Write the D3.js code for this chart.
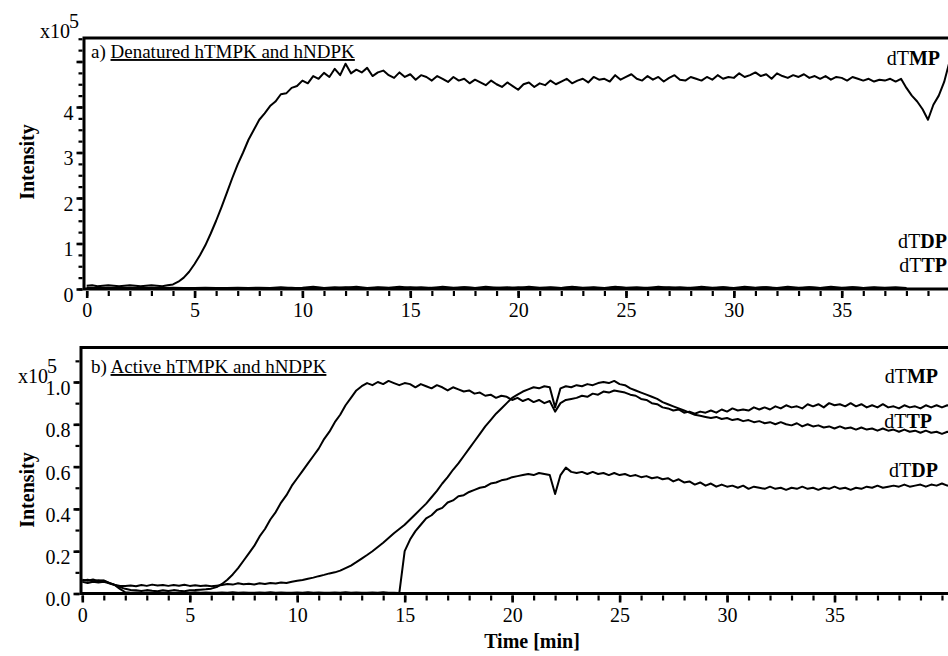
<!DOCTYPE html>
<html>
<head>
<meta charset="utf-8">
<script src="https://cdn.jsdelivr.net/npm/d3@7"></script>
<style>
  body { margin: 0; background: #fff; }
</style>
</head>
<body>
<script>
// ------------------------------- //
// Data (intensity in units of 1e5, sampled every 0.25 min from t = 0)
// ------------------------------- //
var step = 0.25
var baseStep = 0.5   // the flat traces of panel a) are sampled every 0.5 min
var FONT = "Liberation Serif"

// a) denatured enzymes
var topTMP = [
  0.07, 0.08, 0.06, 0.07,   // 0
  0.08, 0.07, 0.06, 0.07,   // 1
  0.08, 0.07, 0.06, 0.07,   // 2
  0.08, 0.07, 0.06, 0.08,   // 3
  0.10, 0.16, 0.25, 0.38,   // 4
  0.55, 0.74, 0.96, 1.22,   // 5
  1.50, 1.80, 2.12, 2.44,   // 6
  2.74, 3.00, 3.28, 3.50,   // 7
  3.72, 3.86, 4.02, 4.12,   // 8
  4.28, 4.30, 4.42, 4.46,   // 9
  4.58, 4.52, 4.68, 4.62,   // 10
  4.75, 4.66, 4.84, 4.70,   // 11
  4.95, 4.74, 4.82, 4.76,   // 12
  4.86, 4.68, 4.76, 4.80,   // 13
  4.70, 4.64, 4.76, 4.66,   // 14
  4.72, 4.60, 4.70, 4.66,   // 15
  4.58, 4.68, 4.62, 4.55,   // 16
  4.66, 4.58, 4.62, 4.52,   // 17
  4.60, 4.54, 4.48, 4.58,   // 18
  4.50, 4.44, 4.54, 4.46,   // 19
  4.38, 4.50, 4.54, 4.44,   // 20
  4.52, 4.48, 4.58, 4.50,   // 21
  4.56, 4.62, 4.52, 4.58,   // 22
  4.62, 4.54, 4.66, 4.60,   // 23
  4.62, 4.56, 4.70, 4.60,   // 24
  4.66, 4.72, 4.62, 4.58,   // 25
  4.68, 4.60, 4.66, 4.56,   // 26
  4.64, 4.70, 4.60, 4.58,   // 27
  4.66, 4.62, 4.58, 4.66,   // 28
  4.60, 4.70, 4.62, 4.66,   // 29
  4.64, 4.74, 4.66, 4.70,   // 30
  4.76, 4.68, 4.72, 4.62,   // 31
  4.74, 4.68, 4.64, 4.70,   // 32
  4.66, 4.72, 4.64, 4.68,   // 33
  4.62, 4.68, 4.60, 4.66,   // 34
  4.64, 4.58, 4.66, 4.62,   // 35
  4.58, 4.62, 4.56, 4.60,   // 36
  4.58, 4.62, 4.56, 4.62,   // 37
  4.42, 4.25, 4.12, 3.95,   // 38
  3.72, 4.05, 4.25, 4.55,   // 39
  5.00, 5.30, 5.50          // 40
]
var topTDP = [
  0.03, 0.02, 0.03, 0.02, 0.03, 0.02, 0.03, 0.02, 0.03, 0.02,
  0.02, 0.03, 0.02, 0.02, 0.03, 0.02, 0.03, 0.02, 0.04, 0.02,
  0.03, 0.05, 0.02, 0.04, 0.03, 0.05, 0.02, 0.04, 0.03, 0.05,
  0.03, 0.04, 0.02, 0.05, 0.03, 0.04, 0.02, 0.05, 0.03, 0.04,
  0.02, 0.05, 0.03, 0.04, 0.02, 0.05, 0.03, 0.04, 0.02, 0.05,
  0.03, 0.04, 0.02, 0.05, 0.03, 0.04, 0.02, 0.05, 0.03, 0.04,
  0.02, 0.05, 0.03, 0.04, 0.02, 0.05, 0.03, 0.04, 0.02, 0.05,
  0.03, 0.04, 0.02, 0.04, 0.03, 0.04, 0.02
]
var topTTP = [
  0.01, 0.02, 0.01, 0.02, 0.01, 0.02, 0.01, 0.02, 0.01, 0.02,
  0.01, 0.02, 0.01, 0.02, 0.01, 0.02, 0.01, 0.02, 0.01, 0.03,
  0.01, 0.03, 0.02, 0.01, 0.04, 0.02, 0.01, 0.03, 0.02, 0.01,
  0.04, 0.01, 0.03, 0.02, 0.01, 0.04, 0.02, 0.01, 0.03, 0.01,
  0.04, 0.02, 0.01, 0.03, 0.02, 0.04, 0.01, 0.03, 0.01, 0.04,
  0.02, 0.01, 0.03, 0.02, 0.04, 0.01, 0.03, 0.02, 0.01, 0.04,
  0.01, 0.03, 0.02, 0.04, 0.01, 0.03, 0.01, 0.04, 0.02, 0.03,
  0.01, 0.04, 0.02, 0.03, 0.01, 0.02, 0.01
]

// b) active enzymes
var botTMP = [
  0.065, 0.060, 0.066, 0.058,   // 0
  0.062, 0.050, 0.041, 0.030,   // 1
  0.022, 0.017, 0.015, 0.012,   // 2
  0.016, 0.013, 0.011, 0.015,   // 3
  0.012, 0.016, 0.013, 0.011,   // 4
  0.015, 0.016, 0.018, 0.020,   // 5
  0.023, 0.030, 0.045, 0.065,   // 6
  0.090, 0.120, 0.155, 0.190,   // 7
  0.225, 0.270, 0.305, 0.350,   // 8
  0.385, 0.430, 0.465, 0.510,   // 9
  0.545, 0.580, 0.615, 0.650,   // 10
  0.685, 0.730, 0.765, 0.810,   // 11
  0.845, 0.890, 0.925, 0.960,   // 12
  0.980, 0.995, 0.985, 1.000,   // 13
  0.990, 1.005, 0.995, 0.985,   // 14
  0.995, 0.990, 0.975, 0.990,   // 15
  0.980, 0.970, 0.985, 0.975,   // 16
  0.960, 0.975, 0.965, 0.955,   // 17
  0.960, 0.945, 0.950, 0.935,   // 18
  0.940, 0.925, 0.935, 0.930,   // 19
  0.915, 0.925, 0.910, 0.920,   // 20
  0.905, 0.915, 0.900, 0.910,   // 21
  0.860, 0.900, 0.915, 0.920,   // 22
  0.925, 0.935, 0.930, 0.945,   // 23
  0.940, 0.955, 0.950, 0.960,   // 24
  0.955, 0.950, 0.940, 0.935,   // 25
  0.920, 0.915, 0.900, 0.895,   // 26
  0.880, 0.875, 0.865, 0.870,   // 27
  0.855, 0.860, 0.850, 0.860,   // 28
  0.855, 0.865, 0.855, 0.870,   // 29
  0.860, 0.875, 0.865, 0.870,   // 30
  0.865, 0.880, 0.870, 0.880,   // 31
  0.870, 0.885, 0.875, 0.890,   // 32
  0.880, 0.885, 0.875, 0.895,   // 33
  0.885, 0.895, 0.880, 0.900,   // 34
  0.890, 0.895, 0.885, 0.900,   // 35
  0.885, 0.895, 0.880, 0.890,   // 36
  0.880, 0.895, 0.880, 0.885,   // 37
  0.875, 0.890, 0.880, 0.885,   // 38
  0.875, 0.890, 0.880, 0.890,   // 39
  0.880, 0.890, 0.885           // 40
]
var botTTP = [
  0.060, 0.065, 0.058, 0.063,   // 0
  0.060, 0.050, 0.042, 0.036,   // 1
  0.035, 0.038, 0.034, 0.040,   // 2
  0.036, 0.042, 0.038, 0.040,   // 3
  0.036, 0.040, 0.037, 0.041,   // 4
  0.036, 0.039, 0.035, 0.038,   // 5
  0.034, 0.037, 0.040, 0.045,   // 6
  0.042, 0.048, 0.044, 0.046,   // 7
  0.043, 0.048, 0.045, 0.050,   // 8
  0.047, 0.052, 0.050, 0.056,   // 9
  0.060, 0.064, 0.070, 0.075,   // 10
  0.082, 0.088, 0.095, 0.100,   // 11
  0.108, 0.120, 0.132, 0.148,   // 12
  0.165, 0.182, 0.200, 0.220,   // 13
  0.240, 0.262, 0.285, 0.305,   // 14
  0.325, 0.350, 0.375, 0.400,   // 15
  0.425, 0.455, 0.485, 0.520,   // 16
  0.550, 0.585, 0.615, 0.650,   // 17
  0.685, 0.720, 0.755, 0.790,   // 18
  0.820, 0.850, 0.875, 0.900,   // 19
  0.925, 0.940, 0.955, 0.965,   // 20
  0.975, 0.970, 0.980, 0.975,   // 21
  0.880, 0.970, 0.980, 0.975,   // 22
  0.985, 0.980, 0.990, 0.985,   // 23
  0.995, 1.000, 0.995, 1.005,   // 24
  0.990, 0.985, 0.970, 0.960,   // 25
  0.950, 0.940, 0.930, 0.920,   // 26
  0.905, 0.895, 0.885, 0.875,   // 27
  0.865, 0.855, 0.845, 0.840,   // 28
  0.835, 0.830, 0.835, 0.825,   // 29
  0.830, 0.820, 0.825, 0.815,   // 30
  0.820, 0.810, 0.815, 0.805,   // 31
  0.810, 0.800, 0.810, 0.800,   // 32
  0.795, 0.805, 0.790, 0.800,   // 33
  0.790, 0.795, 0.785, 0.790,   // 34
  0.780, 0.790, 0.780, 0.785,   // 35
  0.775, 0.785, 0.775, 0.780,   // 36
  0.770, 0.780, 0.770, 0.775,   // 37
  0.765, 0.775, 0.765, 0.770,   // 38
  0.760, 0.770, 0.760, 0.765,   // 39
  0.755, 0.765, 0.755           // 40
]
var botTDP = [
  0.055, 0.050, 0.056, 0.052,   // 0
  0.055, 0.048, 0.040, 0.022,   // 1
  0.006, 0.004, 0.005, 0.003,   // 2
  0.005, 0.004, 0.006, 0.003,   // 3
  0.005, 0.004, 0.003, 0.005,   // 4
  0.004, 0.006, 0.003, 0.005,   // 5
  0.004, 0.003, 0.005, 0.004,   // 6
  0.006, 0.003, 0.005, 0.004,   // 7
  0.003, 0.005, 0.004, 0.006,   // 8
  0.003, 0.005, 0.004, 0.003,   // 9
  0.005, 0.004, 0.006, 0.003,   // 10
  0.005, 0.004, 0.003, 0.005,   // 11
  0.004, 0.006, 0.003, 0.005,   // 12
  0.004, 0.003, 0.005, 0.004,   // 13
  0.006, 0.003, 0.004, 0.002,   // 14
  0.200, 0.255, 0.295, 0.325,   // 15
  0.355, 0.370, 0.395, 0.405,   // 16
  0.430, 0.440, 0.460, 0.465,   // 17
  0.480, 0.490, 0.500, 0.505,   // 18
  0.520, 0.525, 0.535, 0.540,   // 19
  0.550, 0.555, 0.560, 0.565,   // 20
  0.560, 0.570, 0.565, 0.560,   // 21
  0.470, 0.560, 0.595, 0.575,   // 22
  0.570, 0.575, 0.565, 0.575,   // 23
  0.565, 0.570, 0.560, 0.570,   // 24
  0.560, 0.565, 0.555, 0.560,   // 25
  0.550, 0.555, 0.545, 0.550,   // 26
  0.540, 0.545, 0.530, 0.540,   // 27
  0.525, 0.530, 0.515, 0.525,   // 28
  0.510, 0.520, 0.505, 0.515,   // 29
  0.505, 0.510, 0.500, 0.510,   // 30
  0.495, 0.505, 0.500, 0.495,   // 31
  0.505, 0.495, 0.500, 0.490,   // 32
  0.500, 0.495, 0.505, 0.495,   // 33
  0.500, 0.490, 0.500, 0.495,   // 34
  0.505, 0.495, 0.500, 0.490,   // 35
  0.500, 0.495, 0.505, 0.500,   // 36
  0.510, 0.500, 0.505, 0.510,   // 37
  0.505, 0.515, 0.505, 0.510,   // 38
  0.515, 0.505, 0.515, 0.510,   // 39
  0.520, 0.510, 0.515           // 40
]

// Tick values
var xMajor = [0, 5, 10, 15, 20, 25, 30, 35]
var xMinor = d3.range(0, 41, 1)
var topYMajor = [0, 1, 2, 3, 4, 5]
var topYLabels = ["0", "1", "2", "3", "4"]
var botYMajor = [0, 0.2, 0.4, 0.6, 0.8, 1.0]
var botYLabels = ["0.0", "0.2", "0.4", "0.6", "0.8", "1.0"]

// ------------------------------- //
// SVG
// ------------------------------- //
var W = 948, H = 656
var svg = d3.select("body")
    .append("svg")
    .attr("width", W)
    .attr("height", H)
    .attr("font-family", FONT)

// Draw one panel: frame, axes, traces, labels
function drawPanel(p) {

    var x = d3.scaleLinear().domain([0, 35]).range(p.xRange)
    var y = d3.scaleLinear().domain(p.yDomain).range(p.yRange)
    var y0 = y(0)

    var g = svg.append("g")

    // x axis: minor ticks
    g.append("g")
        .attr("transform", "translate(0," + (y0 + 2) + ")")
        .call(d3.axisBottom(x).tickValues(xMinor).tickSize(5).tickFormat(""))
        .call(function(s) { s.select(".domain").remove() })
        .selectAll("line").attr("stroke-width", 2.2)

    // x axis: major ticks + labels
    var xa = g.append("g")
        .attr("transform", "translate(0," + (y0 + 2) + ")")
        .call(d3.axisBottom(x).tickValues(xMajor).tickSize(7).tickPadding(5).tickFormat(d3.format("d")))
        .call(function(s) { s.select(".domain").remove() })
        .attr("font-family", FONT)
    xa.selectAll("line").attr("stroke-width", 2.6)
    xa.selectAll("text").attr("font-size", "20px")

    // y axis: minor ticks
    g.append("g")
        .attr("transform", "translate(" + (p.frameX - 1.5) + ",0)")
        .call(d3.axisLeft(y).tickValues(p.yMinor).tickSize(4).tickFormat(""))
        .call(function(s) { s.select(".domain").remove() })
        .selectAll("line").attr("stroke-width", 2.2)

    // y axis: major ticks + labels
    var ya = g.append("g")
        .attr("transform", "translate(" + (p.frameX - 1.5) + ",0)")
        .call(d3.axisLeft(y).tickValues(p.yMajor).tickSize(6).tickPadding(3)
            .tickFormat(function(d, i) { return p.yLabels[i] || "" }))
        .call(function(s) { s.select(".domain").remove() })
        .attr("font-family", FONT)
    ya.selectAll("line").attr("stroke-width", 2.6)
    ya.selectAll("text").attr("font-size", "20px").attr("dy", "0.62em")

    // frame (left, top, bottom; right side runs off the picture)
    g.append("path")
        .attr("d", "M" + W + "," + p.frameTop + "H" + p.frameX + "V" + y0 + "H" + W)
        .attr("fill", "none")
        .attr("stroke", "#000")
        .attr("stroke-width", 3)

    // traces
    p.series.forEach(function(s) {
        var line = d3.line()
            .x(function(d, i) { return x(i * s.step) })
            .y(function(d) { return y(d) })
        g.append("path")
            .datum(s.values)
            .attr("d", line)
            .attr("fill", "none")
            .attr("stroke", "#000")
            .attr("stroke-width", 2)
            .attr("stroke-linejoin", "round")
    })

    // panel title with underline
    var t = g.append("text")
        .attr("x", 91)
        .attr("y", p.titleY)
        .attr("font-size", "19px")
    t.append("tspan").text(p.titleLetter + " ")
    t.append("tspan").text(p.title).attr("text-decoration", "underline")

    // x10^5 multiplier
    g.append("text").attr("x", p.multX).attr("y", p.multY)
        .attr("font-size", "20px").text("x10")
    g.append("text").attr("x", p.multX + 29).attr("y", p.multY - 10)
        .attr("font-size", "20px").text("5")

    // y title
    g.append("text")
        .attr("transform", "translate(" + 34 + "," + p.yTitleY + ") rotate(-90)")
        .attr("text-anchor", "middle")
        .attr("font-size", "20px")
        .attr("font-weight", "bold")
        .text("Intensity")

    // trace labels at the right
    p.labels.forEach(function(l) {
        var lt = g.append("text")
            .attr("x", l.x)
            .attr("y", l.y)
            .attr("text-anchor", "end")
            .attr("font-size", "20px")
        lt.append("tspan").text(l.plain)
        lt.append("tspan").text(l.bold).attr("font-weight", "bold")
    })
}

// ------------------------------- //
// a) Denatured
// ------------------------------- //
drawPanel({
    xRange: [86.7, 841.7],
    yDomain: [0, 4],
    yRange: [289, 107],
    frameX: 84,
    frameTop: 38,
    yMajor: topYMajor,
    yLabels: topYLabels,
    yMinor: d3.range(0, 5.6, 0.25),
    series: [
        { values: topTDP, step: baseStep },
        { values: topTTP, step: baseStep },
        { values: topTMP, step: step }
    ],
    titleLetter: "a)",
    title: "Denatured hTMPK and hNDPK",
    titleY: 58,
    multX: 40,
    multY: 38,
    yTitleY: 162,
    labels: [
        { plain: "dT", bold: "MP", x: 940, y: 65 },
        { plain: "dT", bold: "DP", x: 947, y: 248 },
        { plain: "dT", bold: "TP", x: 947, y: 272 }
    ]
})

// ------------------------------- //
// b) Active
// ------------------------------- //
drawPanel({
    xRange: [82.3, 834.5],
    yDomain: [0, 1],
    yRange: [593.5, 382],
    frameX: 81,
    frameTop: 347.5,
    yMajor: botYMajor,
    yLabels: botYLabels,
    yMinor: d3.range(0, 1.15, 0.1),
    series: [
        { values: botTDP, step: step },
        { values: botTTP, step: step },
        { values: botTMP, step: step }
    ],
    titleLetter: "b)",
    title: "Active hTMPK and hNDPK",
    titleY: 373,
    multX: 18,
    multY: 383,
    yTitleY: 490,
    labels: [
        { plain: "dT", bold: "MP", x: 938, y: 383 },
        { plain: "dT", bold: "TP", x: 932, y: 428 },
        { plain: "dT", bold: "DP", x: 938, y: 477 }
    ]
})

// x title
svg.append("text")
    .attr("x", 532)
    .attr("y", 648)
    .attr("text-anchor", "middle")
    .attr("font-size", "20px")
    .attr("font-weight", "bold")
    .text("Time [min]")
</script>
</body>
</html>
